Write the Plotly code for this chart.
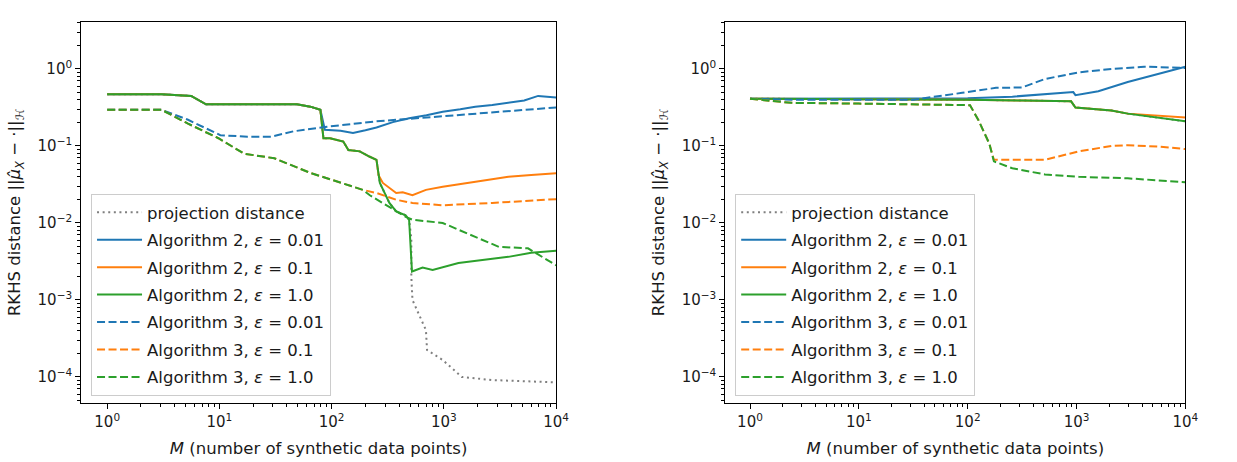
import plotly.graph_objects as go

# ---------------- data ----------------
# Left panel
L_proj_M = [1, 3.05, 5.6, 7.6, 49, 64.6, 79.4, 84.5, 96.8, 127, 141, 178, 219, 251, 269, 327, 376, 457, 490,
            513, 513, 525, 692, 708, 977, 1445, 2692, 10000]
L_proj_D = [0.468, 0.468, 0.447, 0.347, 0.347, 0.324, 0.295, 0.126, 0.126, 0.114, 0.0887, 0.0851, 0.0724, 0.0661,
            0.0331, 0.0182, 0.0141, 0.0126, 0.011, 0.0063, 0.002, 0.001, 0.000407, 0.000224, 0.000166, 0.0001,
            0.0000912, 0.0000851]

L_a2_001_M = [1, 3.05, 5.6, 7.6, 49, 64.6, 79.4, 87, 120, 155, 200, 251, 351, 490, 700, 977, 1400, 1905, 2700,
              3758, 5200, 6918, 10000]
L_a2_001_D = [0.468, 0.468, 0.447, 0.347, 0.347, 0.324, 0.295, 0.162, 0.158, 0.148, 0.16, 0.174, 0.204, 0.229,
              0.25, 0.279, 0.3, 0.324, 0.34, 0.363, 0.39, 0.447, 0.427]

L_a2_01_M = [1, 3.05, 5.6, 7.6, 49, 64.6, 79.4, 84.5, 96.8, 127, 141, 178, 219, 251, 262, 286, 376, 430, 525,
             692, 977, 1400, 1905, 2700, 3758, 6000, 10000]
L_a2_01_D = [0.468, 0.468, 0.447, 0.347, 0.347, 0.324, 0.295, 0.126, 0.126, 0.114, 0.0887, 0.0851, 0.0724, 0.0661,
             0.0417, 0.0331, 0.0245, 0.0251, 0.0229, 0.0269, 0.0295, 0.032, 0.0347, 0.037, 0.0398, 0.042, 0.0442]

L_a2_1_M = [1, 3.05, 5.6, 7.6, 49, 64.6, 79.4, 84.5, 96.8, 127, 141, 178, 219, 251, 269, 327, 376, 457, 490,
            520, 646, 794, 1349, 2200, 3758, 6000, 10000]
L_a2_1_D = [0.468, 0.468, 0.447, 0.347, 0.347, 0.324, 0.295, 0.126, 0.126, 0.114, 0.0887, 0.0851, 0.0724, 0.0661,
            0.0331, 0.0182, 0.0141, 0.0126, 0.011, 0.00234, 0.00263, 0.00245, 0.00302, 0.0033, 0.00363, 0.0041,
            0.00437]

L_a3_001_M = [1, 3.05, 5.25, 10.2, 17.8, 28.8, 45.7, 91, 251, 977, 3758, 10000]
L_a3_001_D = [0.295, 0.295, 0.219, 0.138, 0.132, 0.132, 0.155, 0.178, 0.209, 0.245, 0.288, 0.316]

L_a3_01_M = [1, 3.05, 5.25, 9.8, 16.6, 30.9, 64.6, 145, 190, 251, 376, 525, 977, 2692, 10000]
L_a3_01_D = [0.295, 0.295, 0.195, 0.126, 0.0794, 0.0692, 0.0447, 0.0309, 0.0269, 0.0245, 0.02, 0.0182, 0.017,
             0.0182, 0.0204]

L_a3_1_M = [1, 3.05, 5.25, 9.8, 16.6, 30.9, 64.6, 145, 190, 219, 327, 457, 525, 977, 1905, 3090, 5623, 10000]
L_a3_1_D = [0.295, 0.295, 0.195, 0.126, 0.0794, 0.0692, 0.0447, 0.0309, 0.0269, 0.0229, 0.0162, 0.012, 0.011,
            0.01, 0.0066, 0.0049, 0.00468, 0.00282]

# Right panel
R_proj_M = [1, 10, 100, 316, 891, 977, 2089, 2951, 5888, 10000]
R_proj_D = [0.411, 0.407, 0.398, 0.39, 0.38, 0.316, 0.288, 0.263, 0.229, 0.209]

R_a2_001_M = [1, 31.6, 100, 257, 513, 933, 977, 1585, 2951, 5495, 10000]
R_a2_001_D = [0.411, 0.412, 0.417, 0.437, 0.468, 0.501, 0.457, 0.513, 0.676, 0.863, 1.07]

R_a2_01_M = [1, 10, 100, 316, 891, 977, 2089, 2951, 5888, 10000]
R_a2_01_D = [0.411, 0.407, 0.398, 0.39, 0.38, 0.316, 0.288, 0.263, 0.245, 0.234]

R_a2_1_M = [1, 10, 100, 316, 891, 977, 2089, 2951, 5888, 10000]
R_a2_1_D = [0.411, 0.407, 0.398, 0.39, 0.38, 0.316, 0.288, 0.263, 0.229, 0.209]

R_a3_001_M = [1, 2.4, 10, 31.6, 89, 182, 316, 513, 1047, 2089, 4169, 10000]
R_a3_001_D = [0.411, 0.398, 0.398, 0.398, 0.49, 0.569, 0.575, 0.741, 0.904, 1.0, 1.07, 1.03]

R_a3_01_M = [1, 2.4, 10, 105, 126, 158, 174, 200, 513, 1047, 2089, 2951, 5888, 10000]
R_a3_01_D = [0.411, 0.363, 0.355, 0.339, 0.214, 0.107, 0.0661, 0.0661, 0.0661, 0.0851, 0.1, 0.102, 0.0977, 0.0912]

R_a3_1_M = [1, 2.4, 10, 105, 126, 158, 174, 257, 513, 1047, 2951, 10000]
R_a3_1_D = [0.411, 0.363, 0.355, 0.339, 0.214, 0.107, 0.0631, 0.0513, 0.0427, 0.0398, 0.038, 0.0339]

labels = ["projection distance",
          "Algorithm 2, <i>ε</i> = 0.01", "Algorithm 2, <i>ε</i> = 0.1", "Algorithm 2, <i>ε</i> = 1.0",
          "Algorithm 3, <i>ε</i> = 0.01", "Algorithm 3, <i>ε</i> = 0.1", "Algorithm 3, <i>ε</i> = 1.0"]

x_tick_vals = [1, 10, 100, 1000, 10000]
x_tick_text = ["10<sup>0</sup>", "10<sup>1</sup>", "10<sup>2</sup>", "10<sup>3</sup>", "10<sup>4</sup>"]
y_tick_vals = [1e-4, 1e-3, 1e-2, 1e-1, 1]
y_tick_text = ["10<sup>−4</sup>", "10<sup>−3</sup>", "10<sup>−2</sup>", "10<sup>−1</sup>", "10<sup>0</sup>"]

# ---------------- styling ----------------
BLUE, ORANGE, GREEN, GRAY = "#1f77b4", "#ff7f0e", "#2ca02c", "#7f7f7f"
LW = 2
styles = [
    dict(color=GRAY, width=LW, dash="2px,3.6px"),
    dict(color=BLUE, width=LW, dash="solid"),
    dict(color=ORANGE, width=LW, dash="solid"),
    dict(color=GREEN, width=LW, dash="solid"),
    dict(color=BLUE, width=LW, dash="8px,3.5px"),
    dict(color=ORANGE, width=LW, dash="8px,3.5px"),
    dict(color=GREEN, width=LW, dash="8px,3.5px"),
]

left_series = [(L_proj_M, L_proj_D), (L_a2_001_M, L_a2_001_D), (L_a2_01_M, L_a2_01_D), (L_a2_1_M, L_a2_1_D),
               (L_a3_001_M, L_a3_001_D), (L_a3_01_M, L_a3_01_D), (L_a3_1_M, L_a3_1_D)]
right_series = [(R_proj_M, R_proj_D), (R_a2_001_M, R_a2_001_D), (R_a2_01_M, R_a2_01_D), (R_a2_1_M, R_a2_1_D),
                (R_a3_001_M, R_a3_001_D), (R_a3_01_M, R_a3_01_D), (R_a3_1_M, R_a3_1_D)]

FONT = "DejaVu Sans"
fig = go.Figure()

for i, (m, d) in enumerate(left_series):
    fig.add_trace(go.Scatter(x=m, y=d, mode="lines", name=labels[i], line=styles[i],
                             xaxis="x", yaxis="y", legend="legend", legendgroup="L%d" % i))
for i, (m, d) in enumerate(right_series):
    fig.add_trace(go.Scatter(x=m, y=d, mode="lines", name=labels[i], line=styles[i],
                             xaxis="x2", yaxis="y2", legend="legend2", legendgroup="R%d" % i))

minor_x = [k * 10 ** e for e in range(0, 4) for k in range(2, 10)]
minor_y = [k * 10 ** e for e in range(-5, 1) for k in range(2, 10)]

tickfont = dict(family=FONT, size=15, color="#1a1a1a")
titlefont = dict(family=FONT, size=16.5, color="#1a1a1a")

def xaxis(domain, rng, anchor):
    return dict(domain=domain, anchor=anchor, type="log", range=rng,
                tickmode="array", tickvals=x_tick_vals, ticktext=x_tick_text,
                ticks="outside", ticklen=5, tickwidth=1, tickcolor="black",
                minor=dict(tickmode="array", tickvals=minor_x, ticks="outside", ticklen=3,
                           tickwidth=0.8, tickcolor="black", showgrid=False),
                showline=True, linecolor="black", linewidth=1, mirror=True,
                showgrid=False, zeroline=False, tickfont=tickfont,
                title=dict(text="<i>M</i> (number of synthetic data points)", font=titlefont, standoff=12))

def yaxis(domain, anchor):
    return dict(domain=domain, anchor=anchor, type="log", range=[-4.338, 0.61],
                tickmode="array", tickvals=y_tick_vals, ticktext=y_tick_text,
                ticks="outside", ticklen=5, tickwidth=1, tickcolor="black",
                minor=dict(tickmode="array", tickvals=minor_y, ticks="outside", ticklen=3,
                           tickwidth=0.8, tickcolor="black", showgrid=False),
                showline=True, linecolor="black", linewidth=1, mirror=True,
                showgrid=False, zeroline=False, tickfont=tickfont,
                title=dict(text="RKHS distance ||<i>μ̂</i><sub><i>X</i></sub> − ·||<sub><i>ℋ</i></sub>",
                           font=titlefont, standoff=12))

ydom = [1 - 403 / 462, 1 - 22 / 462]
legend_common = dict(font=dict(family=FONT, size=16.5, color="#1a1a1a"),
                     bgcolor="rgba(255,255,255,0.8)", bordercolor="#cccccc", borderwidth=1,
                     xref="paper", yref="paper", xanchor="left", yanchor="top",
                     tracegroupgap=3, itemwidth=45)

fig.update_layout(
    width=1237, height=462, autosize=False,
    margin=dict(l=0, r=0, t=0, b=0),
    paper_bgcolor="white", plot_bgcolor="white",
    font=dict(family=FONT, color="#1a1a1a"),
    xaxis=xaxis([82 / 1237, 562 / 1237], [-0.232, 4.0], "y"),
    yaxis=yaxis(ydom, "x"),
    xaxis2=xaxis([733 / 1237, 1198 / 1237], [-0.227, 4.0], "y2"),
    yaxis2=yaxis(ydom, "x2"),
    legend=dict(x=92 / 1237, y=1 - 194 / 462, **legend_common),
    legend2=dict(x=743 / 1237, y=1 - 194 / 462, **legend_common),
    showlegend=True,
)

fig.write_html("out.html")
